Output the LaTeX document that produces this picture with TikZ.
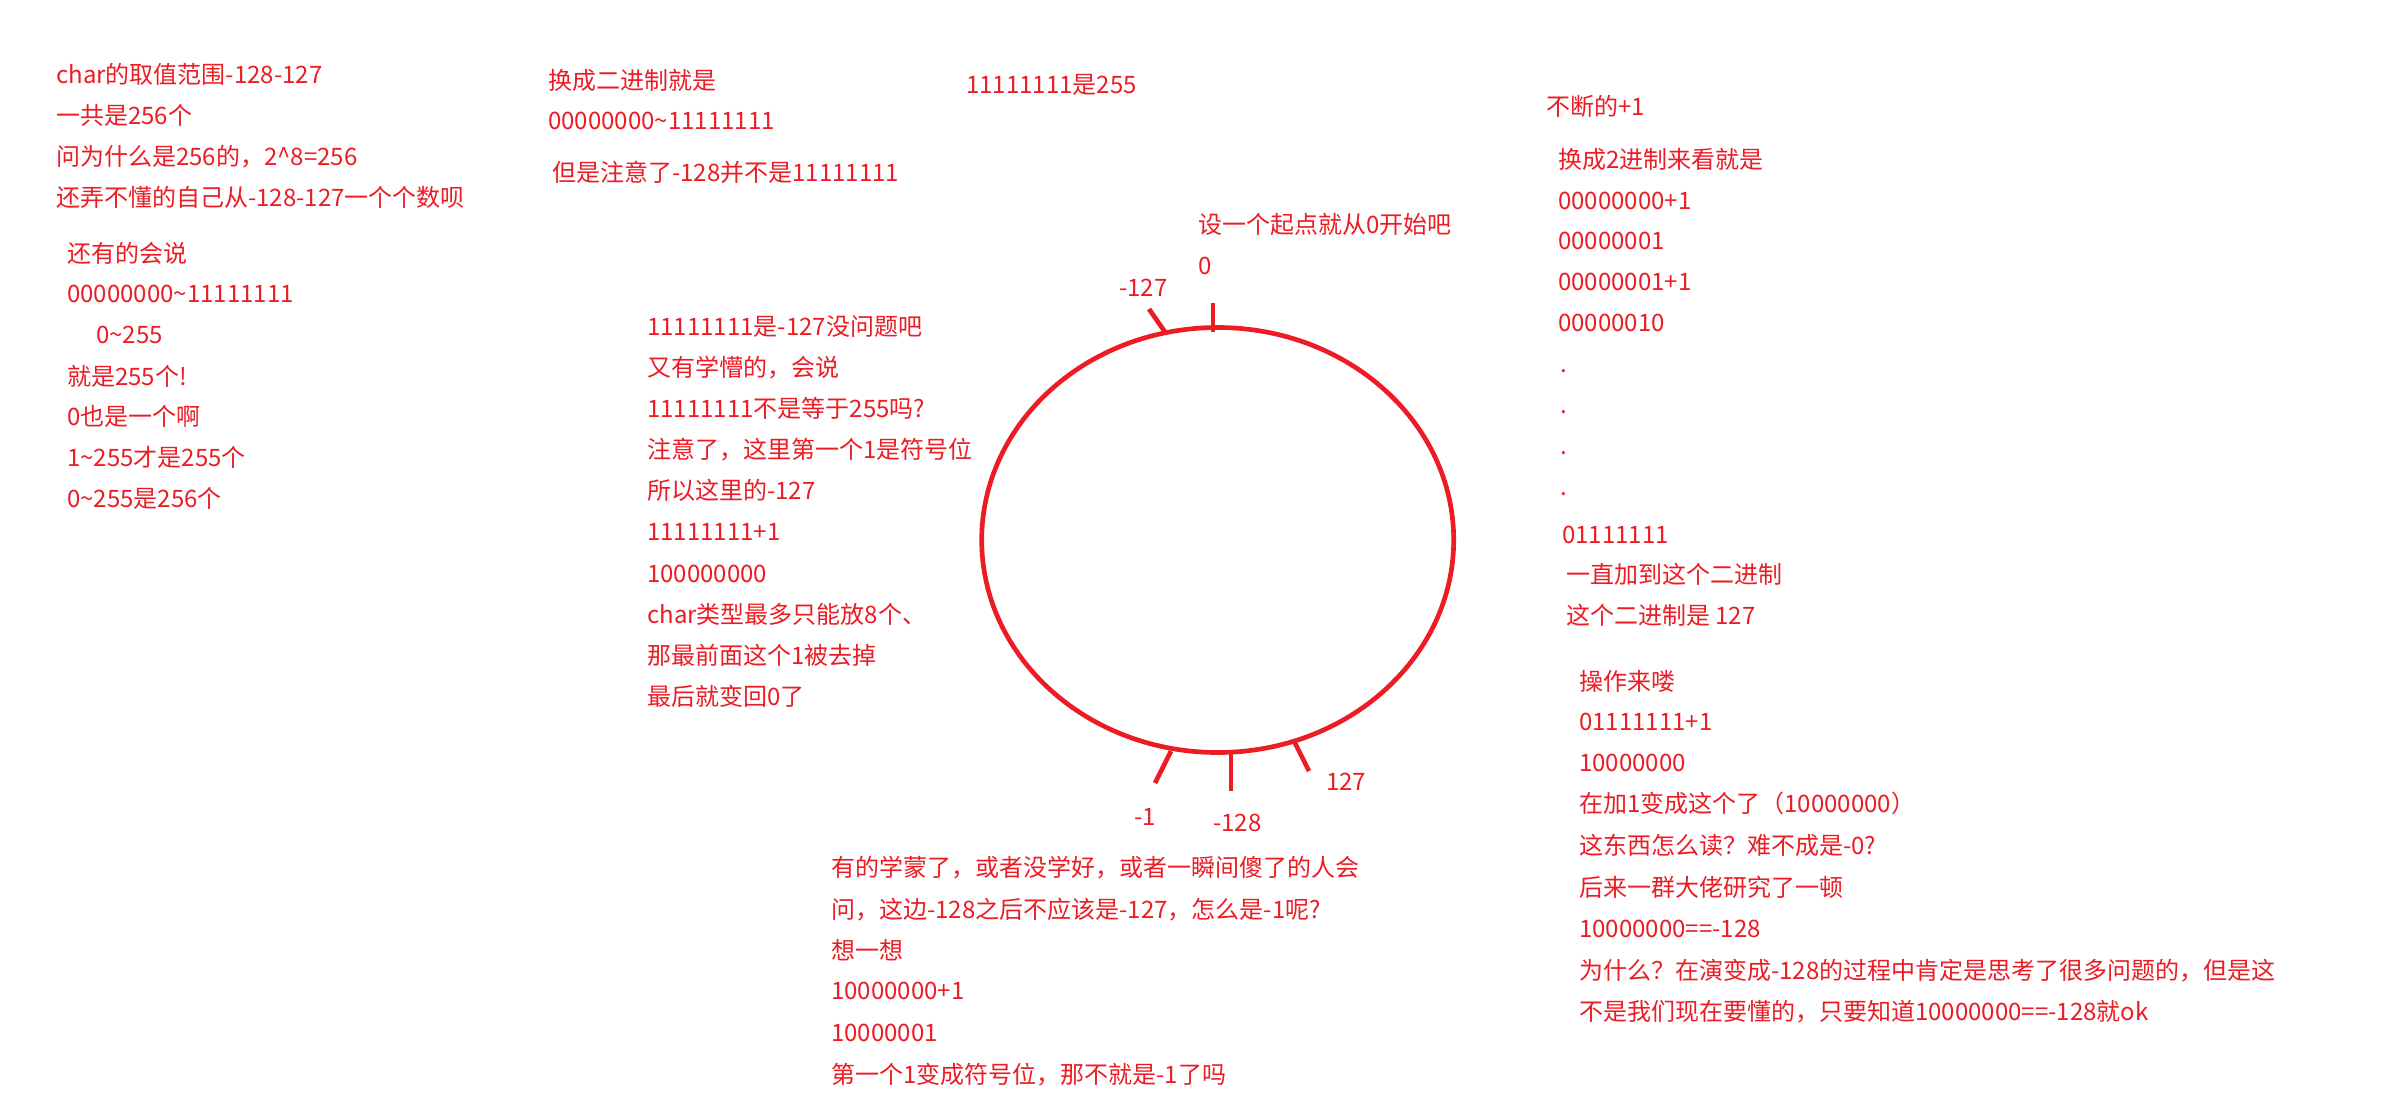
\documentclass[tikz,border=0pt]{standalone}
\usepackage{fontspec}
\setmainfont{Noto Sans CJK SC}
\definecolor{inkred}{RGB}{237,28,36}
\newcommand\tickmark[2]{
        \draw[inkred,line width=3.5pt] (#1) -- (#2);
}

\begin{document}
\begin{tikzpicture}[x=0.75pt,y=-0.75pt,
    note/.style={anchor=base west,inner sep=0pt,text=inkred,font=\fontsize{18}{20}\selectfont}]

    \fill[white] (0,0) rectangle (2393,1118);
    \useasboundingbox (0,0) rectangle (2393,1118);

    %draws the range notes on the left:
    \node[note] (range)  at (56,83)  {char的取值范围-128-127};
    \node[note] (count)  at (56,124) {一共是256个};
    \node[note] (why)    at (56,165) {问为什么是256的，2\textasciicircum8=256};
    \node[note] (self)   at (56,206) {还弄不懂的自己从-128-127一个个数呗};

    \node[note] (others) at (67,262) {还有的会说};
    \node[note] (binall) at (67,302) {00000000\textasciitilde11111111};
    \node[note] (decall) at (96,343) {0\textasciitilde255};
    \node[note] (only)   at (67,385) {就是255个!};
    \node[note] (zero)   at (67,425) {0也是一个啊};
    \node[note] (onetop) at (67,466) {1\textasciitilde255才是255个};
    \node[note] (zerotop) at (67,507) {0\textasciitilde255是256个};

    \node[note] (tobin)  at (548,89)  {换成二进制就是};
    \node[note] (binrng) at (548,129) {00000000\textasciitilde11111111};
    \node[note] (mind)   at (552,181) {但是注意了-128并不是11111111};

    \node[note] (ones)   at (966,93) {11111111是255};

    %draws the notes beside the circle:
    \node[note] (negsev) at (647,335) {11111111是-127没问题吧};
    \node[note] (lost)   at (647,376) {又有学懵的，会说};
    \node[note] (eqq)    at (647,417) {11111111不是等于255吗?};
    \node[note] (sign)   at (647,458) {注意了，这里第一个1是符号位};
    \node[note] (sohere) at (647,499) {所以这里的-127};
    \node[note] (onesp)  at (647,540) {11111111+1};
    \node[note] (nine)   at (647,582) {100000000};
    \node[note] (eight)  at (647,623) {char类型最多只能放8个、};
    \node[note] (drop)   at (647,664) {那最前面这个1被去掉};
    \node[note] (back)   at (647,705) {最后就变回0了};

    %draws the circle and its marks:
    \draw[inkred,line width=3.5pt] (1217.7,540) ellipse [x radius=236, y radius=212.5];

    \coordinate (zeroin)  at (1213,332);
    \coordinate (zeroout) at (1213,303);
    \coordinate (msevin)  at (1165,332);
    \coordinate (msevout) at (1149,309);
    \coordinate (monein)  at (1171,751);
    \coordinate (moneout) at (1155,783);
    \coordinate (meigin)  at (1231,754);
    \coordinate (meigout) at (1231,791);
    \coordinate (psevin)  at (1294,741);
    \coordinate (psevout) at (1309,771);

    \tickmark{zeroin}{zeroout};
    \tickmark{msevin}{msevout};
    \tickmark{monein}{moneout};
    \tickmark{meigin}{meigout};
    \tickmark{psevin}{psevout};

    \node[note] (start)  at (1198,233) {设一个起点就从0开始吧};
    \node[note] (zlab)   at (1198,274) {0};
    \node[note] (mslab)  at (1119,296) {-127};
    \node[note] (mlab)   at (1134,825) {-1};
    \node[note] (melab)  at (1213,831) {-128};
    \node[note] (pslab)  at (1326,790) {127};

    %draws the counting notes on the right:
    \node[note] (plus)   at (1546,115) {不断的+1};
    \node[note] (look)   at (1558,168) {换成2进制来看就是};
    \node[note] (stepa)  at (1558,209) {00000000+1};
    \node[note] (stepb)  at (1558,249) {00000001};
    \node[note] (stepc)  at (1558,290) {00000001+1};
    \node[note] (stepd)  at (1558,331) {00000010};
    \node[note] (dota)   at (1560,372) {.};
    \node[note] (dotb)   at (1560,413) {.};
    \node[note] (dotc)   at (1560,454) {.};
    \node[note] (dotd)   at (1560,495) {.};
    \node[note] (maxpos) at (1562,543) {01111111};
    \node[note] (upto)   at (1566,583) {一直加到这个二进制};
    \node[note] (upval)  at (1566,624) {这个二进制是 127};

    \node[note] (go)     at (1579,690)  {操作来喽};
    \node[note] (gostep) at (1579,730)  {01111111+1};
    \node[note] (gores)  at (1579,771)  {10000000};
    \node[note] (addone) at (1579,812)  {在加1变成这个了（10000000）};
    \node[note] (read)   at (1579,854)  {这东西怎么读？难不成是-0?};
    \node[note] (study)  at (1579,896)  {后来一群大佬研究了一顿};
    \node[note] (isneg)  at (1579,937)  {10000000==-128};
    \node[note] (whyneg) at (1579,979)  {为什么？在演变成-128的过程中肯定是思考了很多问题的，但是这};
    \node[note] (okneg)  at (1579,1020) {不是我们现在要懂的，只要知道10000000==-128就ok};

    %draws the notes below the circle:
    \node[note] (dazed)  at (831,876)  {有的学蒙了，或者没学好，或者一瞬间傻了的人会};
    \node[note] (ask)    at (831,918)  {问，这边-128之后不应该是-127，怎么是-1呢?};
    \node[note] (think)  at (831,959)  {想一想};
    \node[note] (negsum) at (831,999)  {10000000+1};
    \node[note] (negres) at (831,1041) {10000001};
    \node[note] (negone) at (831,1083) {第一个1变成符号位，那不就是-1了吗};

\end{tikzpicture}
\end{document}
